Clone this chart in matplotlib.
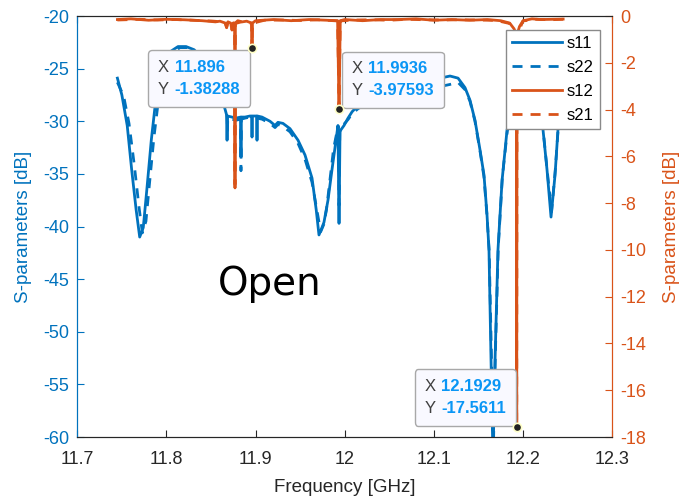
import matplotlib
matplotlib.use('Agg')
import matplotlib.pyplot as plt
from matplotlib.offsetbox import TextArea, HPacker, VPacker, AnnotationBbox

plt.rcParams['font.family'] = ['Liberation Sans', 'DejaVu Sans']
plt.rcParams['axes.unicode_minus'] = False

BLUE = '#0072BD'
ORANGE = '#D95319'
DARK = '#262626'

# ---- data ----
freq_s11 = [11.745, 11.750, 11.756, 11.761, 11.766, 11.770, 11.774, 11.778, 11.783, 11.788,
            11.795, 11.804, 11.813, 11.822, 11.831, 11.840, 11.849, 11.858, 11.8646, 11.8675,
            11.8680, 11.8685, 11.8735, 11.878, 11.8832, 11.8836, 11.8840, 11.8881, 11.8937, 11.8955,
            11.8960, 11.8965, 11.9012, 11.9016, 11.9020, 11.9072, 11.9162, 11.9218, 11.9251, 11.9307,
            11.9386, 11.9476, 11.9554, 11.9633, 11.9680, 11.9711, 11.9740, 11.9767, 11.9812, 11.9857,
            11.9902, 11.9924, 11.9936, 11.9947, 11.9958, 11.9992, 12.0037, 12.0082, 12.0149, 12.0205,
            12.0396, 12.0620, 12.0844, 12.1069, 12.1181, 12.1271, 12.1349, 12.1405, 12.1461, 12.1517,
            12.1562, 12.1596, 12.1618, 12.1641, 12.1663, 12.1686, 12.1719, 12.1765, 12.1821, 12.1966,
            12.2078, 12.2170, 12.2224, 12.2269, 12.2314, 12.2359, 12.2392, 12.2450]
s11 = [-25.9, -27.5, -30.4, -34.6, -38.4, -41.0, -40.1, -36.5, -31.8, -28.0,
       -25.1, -23.4, -22.9, -22.9, -23.2, -24.0, -25.1, -26.8, -28.5, -29.4,
       -31.8, -29.5, -29.6, -29.7, -29.6, -33.4, -29.6, -29.6, -29.5, -29.5,
       -31.5, -29.5, -29.5, -31.8, -29.5, -29.6, -30.0, -30.4, -30.1, -30.2,
       -30.7, -31.8, -33.2, -35.4, -38.4, -40.8, -40.2, -39.6, -37.5, -34.6,
       -31.8, -30.4, -39.7, -31.0, -30.8, -30.4, -29.7, -29.1, -28.5, -28.3,
       -27.7, -26.9, -26.3, -25.9, -25.7, -25.9, -26.8, -28.0, -29.9, -32.7,
       -35.1, -38.9, -42.2, -52.7, -62.0, -52.7, -42.2, -35.6, -30.8, -27.0,
       -26.5, -28.0, -30.8, -34.6, -39.1, -35.1, -30.8, -27.0]

freq_s22 = [11.745, 11.752, 11.758, 11.764, 11.769, 11.773, 11.777, 11.781, 11.786, 11.791,
            11.798, 11.806, 11.815, 11.824, 11.833, 11.842, 11.851, 11.860, 11.8665, 11.8680,
            11.8684, 11.8688, 11.8735, 11.878, 11.8832, 11.8836, 11.8840, 11.8881, 11.8937, 11.9016,
            11.9072, 11.9162, 11.9218, 11.9251, 11.9307, 11.9386, 11.9476, 11.9554, 11.9633, 11.9695,
            11.9730, 11.9765, 11.9795, 11.9835, 11.9875, 11.9915, 11.9930, 11.9936, 11.9945, 12.0000,
            12.0040, 12.0080, 12.0150, 12.0210, 12.0400, 12.0620, 12.0850, 12.1070, 12.1180, 12.1270,
            12.1350, 12.1405, 12.1461, 12.1517, 12.1562, 12.1596, 12.1620, 12.1645, 12.1665, 12.1690,
            12.1722, 12.1768, 12.1824, 12.1966, 12.2078, 12.2175, 12.2230, 12.2275, 12.2320, 12.2362,
            12.2395, 12.2450]
s22 = [-26.3, -27.6, -30.2, -34.2, -38.0, -40.6, -39.5, -35.9, -31.5, -28.0,
       -25.3, -23.6, -23.0, -23.0, -23.4, -24.2, -25.4, -27.1, -28.8, -29.6,
       -31.0, -29.7, -29.8, -29.9, -29.8, -34.7, -29.8, -29.7, -29.6, -29.7,
       -29.8, -30.2, -30.6, -30.3, -30.5, -31.0, -32.1, -33.6, -35.8, -38.8,
       -40.5, -39.8, -38.4, -35.5, -32.6, -30.9, -30.5, -38.0, -30.6, -30.2,
       -29.8, -29.3, -28.8, -28.5, -27.9, -27.2, -26.8, -26.7, -26.5, -26.3,
       -27.0, -28.1, -30.0, -32.8, -35.3, -39.0, -42.3, -52.0, -62.0, -52.0,
       -42.0, -35.3, -30.9, -27.2, -26.8, -28.3, -31.2, -35.0, -38.6, -34.6,
       -30.6, -27.3]

freq_s12 = [11.745, 11.760, 11.780, 11.800, 11.820, 11.840, 11.855, 11.860, 11.866, 11.8675,
            11.869, 11.872, 11.8735, 11.875, 11.8765, 11.8769, 11.8773, 11.880, 11.885, 11.890,
            11.8955, 11.8960, 11.8965, 11.900, 11.920, 11.940, 11.960, 11.980, 11.992, 11.9936,
            11.995, 12.000, 12.020, 12.040, 12.060, 12.080, 12.100, 12.120, 12.140, 12.160,
            12.175, 12.185, 12.190, 12.1925, 12.1929, 12.1933, 12.196, 12.200, 12.210, 12.220,
            12.245]
s12 = [-0.15, -0.12, -0.18, -0.14, -0.16, -0.20, -0.25, -0.22, -0.30, -0.50,
       -0.25, -0.30, -0.60, -0.30, -0.30, -7.35, -0.30, -0.20, -0.25, -0.22,
       -0.30, -1.38288, -0.30, -0.20, -0.15, -0.20, -0.15, -0.18, -0.20, -3.97593,
       -0.20, -0.15, -0.20, -0.15, -0.15, -0.12, -0.18, -0.15, -0.18, -0.15,
       -0.20, -0.30, -0.55, -0.80, -17.5611, -0.80, -0.45, -0.20, -0.12, -0.15,
       -0.13]

freq_s21 = [11.745, 11.770, 11.790, 11.810, 11.830, 11.850, 11.860, 11.866, 11.8675, 11.869,
            11.8735, 11.875, 11.8765, 11.8769, 11.8773, 11.885, 11.8955, 11.8960, 11.8965, 11.910,
            11.930, 11.950, 11.970, 11.992, 11.9936, 11.995, 12.010, 12.030, 12.050, 12.070,
            12.090, 12.110, 12.130, 12.150, 12.170, 12.185, 12.1925, 12.1929, 12.1933, 12.200,
            12.215, 12.230, 12.245]
s21 = [-0.17, -0.14, -0.17, -0.15, -0.18, -0.21, -0.24, -0.32, -0.48, -0.26,
       -0.55, -0.30, -0.32, -7.2, -0.32, -0.24, -0.31, -1.35, -0.31, -0.18,
       -0.17, -0.19, -0.16, -0.21, -3.9, -0.21, -0.17, -0.16, -0.18, -0.14,
       -0.16, -0.17, -0.16, -0.17, -0.19, -0.32, -0.82, -17.5, -0.82, -0.21,
       -0.14, -0.16, -0.14]

tip_x = [11.896, 11.9936, 12.1929]
tip_y = [-1.38288, -3.97593, -17.5611]
tip_text_x = ['11.896', '11.9936', '12.1929']
tip_text_y = ['-1.38288', '-3.97593', '-17.5611']

left_ticks = [-60, -55, -50, -45, -40, -35, -30, -25, -20]
right_ticks = [-18, -16, -14, -12, -10, -8, -6, -4, -2, 0]
x_ticks = [11.7, 11.8, 11.9, 12.0, 12.1, 12.2, 12.3]
x_ticklabels = ['11.7', '11.8', '11.9', '12', '12.1', '12.2', '12.3']


def add_datatip(ax, x, y, tx, ty, offset, align):
    """MATLAB style data tip: dot on the curve plus a rounded box."""
    ax.plot(x, y, 'o', ms=6, mfc='#222222', mec='#ffffc8', mew=1.2, zorder=20)
    lab = dict(color='#404040', size=12)
    val = dict(color='#0a96f5', size=12, weight='bold')
    row1 = HPacker(children=[TextArea('X', textprops=lab), TextArea(tx, textprops=val)],
                   sep=4, pad=0, align='baseline')
    row2 = HPacker(children=[TextArea('Y', textprops=lab), TextArea(ty, textprops=val)],
                   sep=4, pad=0, align='baseline')
    box = VPacker(children=[row1, row2], sep=5, pad=7, align='left')
    ab = AnnotationBbox(box, (x, y), xybox=offset, xycoords='data',
                        boxcoords='offset pixels', box_alignment=align, pad=0,
                        frameon=True,
                        bboxprops=dict(boxstyle='round,pad=0,rounding_size=0.25',
                                       fc='#f9f9ff', ec='#a8a8a8', lw=1))
    ab.set_zorder(19)
    ax.add_artist(ab)


fig = plt.figure(figsize=(6.84, 5.01), dpi=100)
ax = fig.add_axes([0.1130, 0.1277, 0.7820, 0.8403])
ax2 = ax.twinx()

dash = (0, (3.6, 2.9))
l11, = ax.plot(freq_s11, s11, color=BLUE, lw=2, label='s11')
l22, = ax.plot(freq_s22, s22, color=BLUE, lw=2, ls=dash, label='s22')
l12, = ax2.plot(freq_s12, s12, color=ORANGE, lw=2, label='s12')
l21, = ax2.plot(freq_s21, s21, color=ORANGE, lw=2, ls=dash, label='s21')

ax.set_xlim(11.7, 12.3)
ax.set_ylim(-60, -20)
ax2.set_ylim(-18, 0)
ax.set_xticks(x_ticks)
ax.set_xticklabels(x_ticklabels)
ax.set_yticks(left_ticks)
ax2.set_yticks(right_ticks)

ax.tick_params(axis='x', direction='in', length=5, width=0.8, colors=DARK,
               labelsize=13, pad=10, top=True)
ax.tick_params(axis='y', direction='in', length=5, width=0.8, colors=BLUE,
               labelsize=13, pad=6)
ax2.tick_params(axis='y', direction='in', length=5, width=0.8, colors=ORANGE,
                labelsize=13, pad=6)

for a in (ax, ax2):
    a.spines['top'].set_color(DARK)
    a.spines['bottom'].set_color(DARK)
    a.spines['left'].set_color(BLUE)
    a.spines['right'].set_color(ORANGE)
    for s in a.spines.values():
        s.set_linewidth(0.8)

ax.set_xlabel('Frequency [GHz]', fontsize=13.5, color=DARK, labelpad=8)
ax.set_ylabel('S-parameters [dB]', fontsize=13.5, color=BLUE, labelpad=8)
ax2.set_ylabel('S-parameters [dB]', fontsize=13.5, color=ORANGE, labelpad=12)

ax.text(0.263, 0.337, 'Open', transform=ax.transAxes, fontsize=28,
        family='DejaVu Sans', color='black', ha='left', va='baseline')

add_datatip(ax2, tip_x[0], tip_y[0], tip_text_x[0], tip_text_y[0], (-2, -2), (1, 1))
add_datatip(ax2, tip_x[1], tip_y[1], tip_text_x[1], tip_text_y[1], (3, 1), (0, 0))
add_datatip(ax2, tip_x[2], tip_y[2], tip_text_x[2], tip_text_y[2], (-1, 1), (1, 0))

leg = ax2.legend(handles=[l11, l22, l12, l21], loc='upper right',
                 bbox_to_anchor=(0.977, 0.967), borderaxespad=0, fontsize=12,
                 fancybox=False, framealpha=1, edgecolor='#8a8a8a',
                 handlelength=3.0, handletextpad=0.3, labelspacing=0.55,
                 borderpad=0.35)
leg.get_frame().set_linewidth(1)
leg.set_zorder(30)

fig.savefig('out.png', dpi=100)
